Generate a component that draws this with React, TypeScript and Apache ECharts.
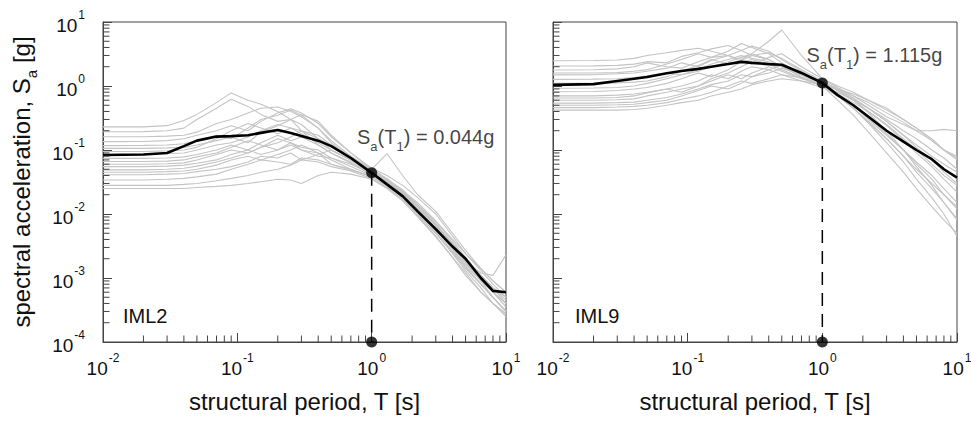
import React, { useEffect, useRef } from 'react';
import * as echarts from 'echarts';

// ---------- data ----------
const periods = [0.01, 0.02, 0.03, 0.04, 0.05, 0.07, 0.09, 0.12, 0.15, 0.2, 0.25, 0.3, 0.4, 0.5, 0.7, 1, 1.3, 1.7, 2.2, 3, 4, 5, 6.5, 8, 10];

const iml2Mean = [0.0835, 0.085, 0.09, 0.115, 0.14, 0.162, 0.165, 0.17, 0.185, 0.205, 0.185, 0.165, 0.14, 0.115, 0.075, 0.044, 0.029, 0.019, 0.011, 0.0058, 0.0031, 0.002, 0.001, 0.00063, 0.0006];

const iml2Records = [
  [0.23, 0.23, 0.24, 0.29, 0.36, 0.55, 0.78, 0.6, 0.52, 0.4, 0.3, 0.2, 0.12, 0.09, 0.062, 0.045, 0.03, 0.019, 0.011, 0.0055, 0.003, 0.0018, 0.0009, 0.0006, 0.00035],
  [0.193, 0.194, 0.2, 0.22, 0.3, 0.45, 0.62, 0.48, 0.36, 0.28, 0.3, 0.25, 0.15, 0.1, 0.07, 0.05, 0.034, 0.022, 0.013, 0.0065, 0.0032, 0.0019, 0.0011, 0.0007, 0.00045],
  [0.161, 0.161, 0.165, 0.17, 0.19, 0.26, 0.3, 0.38, 0.45, 0.47, 0.4, 0.33, 0.22, 0.14, 0.08, 0.048, 0.035, 0.024, 0.014, 0.007, 0.0035, 0.002, 0.0011, 0.0007, 0.0005],
  [0.135, 0.136, 0.14, 0.15, 0.17, 0.2, 0.24, 0.2, 0.28, 0.38, 0.44, 0.38, 0.26, 0.16, 0.09, 0.05, 0.036, 0.023, 0.013, 0.0065, 0.0031, 0.0017, 0.001, 0.0006, 0.0004],
  [0.117, 0.118, 0.12, 0.125, 0.14, 0.17, 0.15, 0.22, 0.3, 0.35, 0.42, 0.35, 0.22, 0.13, 0.075, 0.045, 0.032, 0.021, 0.012, 0.006, 0.003, 0.0018, 0.0009, 0.0005, 0.0003],
  [0.106, 0.106, 0.108, 0.11, 0.12, 0.14, 0.16, 0.13, 0.19, 0.24, 0.3, 0.36, 0.28, 0.17, 0.09, 0.052, 0.04, 0.028, 0.018, 0.01, 0.0045, 0.0024, 0.0013, 0.0008, 0.0005],
  [0.095, 0.095, 0.097, 0.1, 0.11, 0.15, 0.2, 0.26, 0.22, 0.18, 0.22, 0.2, 0.15, 0.12, 0.08, 0.05, 0.088, 0.04, 0.02, 0.011, 0.005, 0.0027, 0.0014, 0.0009, 0.0006],
  [0.085, 0.086, 0.088, 0.09, 0.1, 0.12, 0.13, 0.16, 0.2, 0.25, 0.22, 0.18, 0.13, 0.1, 0.07, 0.042, 0.028, 0.018, 0.01, 0.005, 0.0024, 0.0013, 0.0007, 0.0004, 0.00028],
  [0.074, 0.074, 0.075, 0.078, 0.085, 0.1, 0.12, 0.1, 0.13, 0.17, 0.14, 0.16, 0.12, 0.09, 0.065, 0.04, 0.03, 0.022, 0.014, 0.0075, 0.0038, 0.0021, 0.0011, 0.0007, 0.0005],
  [0.066, 0.066, 0.067, 0.07, 0.078, 0.09, 0.11, 0.14, 0.12, 0.1, 0.13, 0.11, 0.1, 0.075, 0.06, 0.043, 0.03, 0.019, 0.011, 0.0052, 0.0026, 0.0015, 0.0008, 0.0005, 0.0003],
  [0.06, 0.06, 0.061, 0.063, 0.07, 0.085, 0.1, 0.09, 0.11, 0.13, 0.16, 0.2, 0.17, 0.12, 0.07, 0.044, 0.032, 0.02, 0.012, 0.006, 0.0029, 0.0016, 0.0009, 0.0006, 0.0004],
  [0.055, 0.055, 0.056, 0.058, 0.062, 0.07, 0.085, 0.1, 0.085, 0.1, 0.12, 0.1, 0.08, 0.075, 0.055, 0.04, 0.029, 0.021, 0.013, 0.0068, 0.0034, 0.0018, 0.0012, 0.0011, 0.0023],
  [0.049, 0.049, 0.05, 0.052, 0.056, 0.065, 0.075, 0.09, 0.11, 0.15, 0.13, 0.1, 0.09, 0.07, 0.05, 0.038, 0.028, 0.02, 0.012, 0.0058, 0.0028, 0.0015, 0.0008, 0.0005, 0.0003],
  [0.045, 0.045, 0.046, 0.047, 0.05, 0.058, 0.07, 0.08, 0.07, 0.085, 0.1, 0.12, 0.09, 0.06, 0.048, 0.04, 0.031, 0.023, 0.015, 0.0078, 0.004, 0.0024, 0.0014, 0.0009, 0.0006],
  [0.041, 0.041, 0.042, 0.043, 0.046, 0.05, 0.055, 0.065, 0.08, 0.075, 0.09, 0.07, 0.065, 0.055, 0.047, 0.036, 0.026, 0.017, 0.0095, 0.0045, 0.0021, 0.0012, 0.0006, 0.0004, 0.00025],
  [0.034, 0.034, 0.035, 0.036, 0.038, 0.042, 0.05, 0.06, 0.07, 0.065, 0.06, 0.075, 0.07, 0.06, 0.05, 0.038, 0.027, 0.018, 0.01, 0.005, 0.0025, 0.0014, 0.0008, 0.0005, 0.0003],
  [0.028, 0.028, 0.028, 0.029, 0.03, 0.033, 0.036, 0.04, 0.045, 0.05, 0.058, 0.07, 0.085, 0.1, 0.07, 0.046, 0.033, 0.022, 0.013, 0.0068, 0.0034, 0.0019, 0.001, 0.0007, 0.0004],
  [0.025, 0.025, 0.025, 0.025, 0.026, 0.027, 0.028, 0.03, 0.032, 0.035, 0.034, 0.03, 0.04, 0.045, 0.042, 0.035, 0.025, 0.016, 0.009, 0.0044, 0.0021, 0.0011, 0.0006, 0.0004, 0.00027],
];

const iml9Mean = [1.04, 1.07, 1.2, 1.3, 1.38, 1.58, 1.72, 1.85, 2.0, 2.2, 2.38, 2.3, 2.2, 2.15, 1.6, 1.115, 0.72, 0.5, 0.33, 0.2, 0.135, 0.1, 0.072, 0.05, 0.037];

const iml9Records = [
  [2.48, 2.5, 2.55, 2.7, 3.0, 3.3, 3.6, 3.9, 3.5, 3.0, 3.6, 4.2, 3.5, 2.6, 1.7, 1.1, 0.75, 0.5, 0.3, 0.17, 0.1, 0.065, 0.04, 0.025, 0.015],
  [2.05, 2.06, 2.1, 2.2, 2.4, 2.3, 2.9, 3.3, 3.8, 4.3, 3.6, 3.0, 3.3, 2.7, 1.8, 1.2, 0.9, 0.65, 0.45, 0.28, 0.17, 0.12, 0.08, 0.06, 0.045],
  [1.78, 1.79, 1.85, 2.0, 2.3, 2.0, 1.9, 2.4, 2.8, 3.5, 4.6, 4.0, 3.2, 2.3, 1.5, 1.0, 0.7, 0.45, 0.27, 0.15, 0.08, 0.05, 0.03, 0.02, 0.012],
  [1.49, 1.5, 1.55, 1.6, 1.7, 1.9, 2.3, 2.0, 2.5, 3.0, 2.6, 3.2, 5.0, 7.5, 3.0, 1.3, 0.95, 0.7, 0.5, 0.33, 0.25, 0.2, 0.2, 0.21, 0.2],
  [1.27, 1.28, 1.3, 1.35, 1.45, 1.6, 1.5, 1.8, 2.2, 2.6, 3.0, 2.7, 2.4, 2.0, 1.5, 1.15, 0.9, 0.75, 0.6, 0.45, 0.3, 0.22, 0.15, 0.1, 0.08],
  [0.92, 0.93, 0.95, 1.0, 1.1, 1.3, 1.5, 1.7, 2.0, 2.4, 2.8, 3.2, 2.6, 2.0, 1.4, 1.0, 0.7, 0.5, 0.32, 0.18, 0.1, 0.06, 0.035, 0.02, 0.013],
  [0.815, 0.82, 0.85, 0.9, 0.95, 1.1, 1.3, 1.6, 1.4, 1.8, 2.4, 2.2, 2.8, 3.2, 2.0, 1.3, 1.0, 0.8, 0.6, 0.42, 0.3, 0.22, 0.14, 0.1, 0.07],
  [0.7, 0.7, 0.72, 0.75, 0.8, 0.9, 1.0, 1.2, 1.5, 1.3, 1.7, 2.0, 1.8, 1.5, 1.2, 0.95, 0.8, 0.6, 0.45, 0.28, 0.17, 0.11, 0.07, 0.045, 0.03],
  [0.6, 0.6, 0.61, 0.63, 0.7, 0.8, 0.9, 1.0, 1.2, 1.5, 1.3, 1.6, 2.0, 1.7, 1.3, 1.05, 0.7, 0.45, 0.28, 0.15, 0.08, 0.045, 0.025, 0.015, 0.008],
  [0.54, 0.54, 0.55, 0.56, 0.6, 0.66, 0.75, 0.9, 1.05, 1.2, 1.5, 1.4, 1.8, 2.1, 1.6, 1.1, 0.85, 0.6, 0.38, 0.2, 0.1, 0.055, 0.028, 0.015, 0.0085],
  [0.46, 0.46, 0.47, 0.48, 0.5, 0.55, 0.62, 0.7, 0.8, 1.0, 1.2, 1.1, 1.3, 1.5, 1.35, 1.0, 0.75, 0.55, 0.4, 0.25, 0.15, 0.1, 0.06, 0.04, 0.028],
  [0.42, 0.42, 0.42, 0.43, 0.45, 0.5, 0.55, 0.6, 0.7, 0.8, 0.9, 1.05, 1.2, 1.3, 1.2, 1.05, 0.72, 0.45, 0.26, 0.13, 0.065, 0.035, 0.018, 0.01, 0.0045],
  [1.1, 1.1, 1.12, 1.15, 1.2, 1.4, 1.7, 2.1, 2.6, 2.2, 2.5, 3.0, 2.6, 2.0, 1.5, 1.2, 0.85, 0.6, 0.4, 0.24, 0.14, 0.09, 0.055, 0.035, 0.022],
  [0.65, 0.65, 0.66, 0.7, 0.78, 0.9, 0.8, 1.0, 1.3, 1.6, 2.0, 2.4, 2.2, 1.8, 1.35, 1.0, 0.6, 0.35, 0.19, 0.09, 0.045, 0.025, 0.013, 0.008, 0.005],
  [1.6, 1.6, 1.62, 1.7, 1.8, 2.2, 2.6, 3.2, 2.8, 3.0, 2.4, 2.6, 2.2, 2.0, 1.6, 1.15, 0.9, 0.7, 0.55, 0.38, 0.27, 0.2, 0.14, 0.1, 0.075],
  [0.5, 0.5, 0.51, 0.52, 0.55, 0.6, 0.7, 0.85, 1.0, 0.9, 1.1, 1.4, 1.6, 1.9, 1.5, 1.15, 0.85, 0.62, 0.45, 0.3, 0.2, 0.15, 0.1, 0.075, 0.05],
];

const panelLabels = ['IML2', 'IML9'];
const structuralPeriod = 1; // T1 [s]
const saAtT1 = [0.044, 1.115]; // g
const xRange = [0.01, 10];
const yRange = [0.0001, 10];
const xDecades = [-2, -1, 0];
const yDecades = [-4, -3, -2, -1, 0];

// ---------- styling ----------
const FONT = 'Liberation Sans, Arial, Helvetica, sans-serif';
const AXIS_COLOR = '#444';
const TEXT_COLOR = '#111';
const GRAY = '#c4c4c4';

const powRich = {
  b: { fontSize: 19, lineHeight: 26, color: TEXT_COLOR, fontFamily: FONT, verticalAlign: 'bottom' },
  s: { fontSize: 12, lineHeight: 12, color: TEXT_COLOR, fontFamily: FONT, verticalAlign: 'top', padding: [0, 0, 0, 1] },
};
const powFormatter = (v: number) => `{b|10}{s|${Math.round(Math.log10(v))}}`;

const minorTickValues = (decades: number[]) => {
  const out: number[] = [];
  decades.forEach((d) => {
    for (let m = 2; m <= 9; m++) out.push(m * Math.pow(10, d));
  });
  return out;
};

function buildOption() {
  const grids = [
    { left: 103, top: 22, width: 403, height: 320 },
    { left: 553, top: 22, width: 404, height: 320 },
  ].map((g) => ({ ...g, show: true, borderColor: AXIS_COLOR, borderWidth: 1, backgroundColor: 'transparent', containLabel: false, outerBoundsMode: 'none' }));

  const xAxes = [0, 1].map((i) => ({
    type: 'log',
    logBase: 10,
    gridIndex: i,
    min: xRange[0],
    max: xRange[1],
    axisLine: { show: true, lineStyle: { color: AXIS_COLOR, width: 1 } },
    axisTick: { show: true, inside: true, length: 9, lineStyle: { color: AXIS_COLOR, width: 1 } },
    axisLabel: { margin: 10, fontSize: 19, fontFamily: FONT, formatter: powFormatter, rich: powRich, color: TEXT_COLOR },
    splitLine: { show: false },
    minorTick: { show: false },
    name: 'structural period, T [s]',
    nameLocation: 'middle',
    nameGap: 47,
    nameTextStyle: { fontSize: 24, color: TEXT_COLOR, fontFamily: FONT },
  }));

  const yAxes = [0, 1].map((i) => ({
    type: 'log',
    logBase: 10,
    gridIndex: i,
    min: yRange[0],
    max: yRange[1],
    axisLine: { show: true, lineStyle: { color: AXIS_COLOR, width: 1 } },
    axisTick: { show: true, inside: true, length: 9, lineStyle: { color: AXIS_COLOR, width: 1 } },
    axisLabel: { show: i === 0, margin: 18, fontSize: 19, fontFamily: FONT, formatter: powFormatter, rich: powRich, color: TEXT_COLOR },
    splitLine: { show: false },
    minorTick: { show: false },
    name: i === 0 ? '{m|spectral acceleration, S}{sub|a}{m| [g]}' : '',
    nameLocation: 'middle',
    nameGap: 64,
    nameRotate: 90,
    nameTextStyle: {
      fontSize: 24,
      color: TEXT_COLOR,
      fontFamily: FONT,
      rich: {
        m: { fontSize: 24, lineHeight: 30, color: TEXT_COLOR, fontFamily: FONT, verticalAlign: 'top' },
        sub: { fontSize: 15, lineHeight: 15, color: TEXT_COLOR, fontFamily: FONT, verticalAlign: 'bottom' },
      },
    },
  }));

  const xMinor = minorTickValues(xDecades);
  const yMinor = minorTickValues(yDecades);

  const series: any[] = [];
  const panels = [
    { records: iml2Records, mean: iml2Mean },
    { records: iml9Records, mean: iml9Mean },
  ];

  panels.forEach((p, i) => {
    // minor ticks on the log axes
    series.push({
      type: 'custom',
      xAxisIndex: i,
      yAxisIndex: i,
      silent: true,
      clip: false,
      z: 5,
      encode: { x: 0, y: 1 },
      data: [
        ...xMinor.map((v) => [v, yRange[0], 0]),
        ...yMinor.map((v) => [xRange[0], v, 1]),
      ],
      renderItem: (params: any, api: any) => {
        const pt = api.coord([api.value(0), api.value(1)]);
        const horiz = api.value(2) === 1;
        const len = 6.5;
        return {
          type: 'line',
          shape: horiz
            ? { x1: pt[0], y1: pt[1], x2: pt[0] + len, y2: pt[1] }
            : { x1: pt[0], y1: pt[1], x2: pt[0], y2: pt[1] - len },
          style: { stroke: AXIS_COLOR, lineWidth: 1 },
        };
      },
    });

    p.records.forEach((rec) => {
      series.push({
        type: 'line',
        xAxisIndex: i,
        yAxisIndex: i,
        data: periods.map((t, k) => [t, rec[k]]),
        showSymbol: false,
        symbol: 'none',
        silent: true,
        lineStyle: { color: GRAY, width: 1.1 },
        z: 2,
      });
    });

    series.push({
      type: 'line',
      xAxisIndex: i,
      yAxisIndex: i,
      data: periods.map((t, k) => [t, p.mean[k]]),
      symbol: 'none',
      silent: true,
      lineStyle: { color: '#000', width: 2.6 },
      z: 3,
    });

    // dashed drop line
    series.push({
      type: 'line',
      xAxisIndex: i,
      yAxisIndex: i,
      data: [
        [structuralPeriod, saAtT1[i]],
        [structuralPeriod, yRange[0]],
      ],
      symbol: 'none',
      silent: true,
      lineStyle: { color: '#000', width: 1.5, type: [13, 8] },
      z: 4,
    });

    // dots + annotation
    series.push({
      type: 'scatter',
      xAxisIndex: i,
      yAxisIndex: i,
      clip: false,
      silent: true,
      symbol: 'circle',
      symbolSize: 11,
      itemStyle: { color: '#000' },
      z: 6,
      data: [
        {
          value: [structuralPeriod, saAtT1[i]],
          label: {
            show: true,
            position: 'inside',
            offset: i === 0 ? [54, -33] : [52, -25],
            color: TEXT_COLOR,
            textBorderWidth: 0,
            formatter: `{m|S}{sub|a}{m|(T}{sub|1}{m|) = ${saAtT1[i].toFixed(3)}g}`,
            rich: {
              m: { fontSize: 20, lineHeight: 26, color: TEXT_COLOR, fontFamily: FONT, textBorderWidth: 0, verticalAlign: 'top' },
              sub: { fontSize: 13, lineHeight: 13, color: TEXT_COLOR, fontFamily: FONT, textBorderWidth: 0, verticalAlign: 'bottom' },
            },
          },
        },
        { value: [structuralPeriod, yRange[0]] },
      ],
    });
  });

  return {
    animation: false,
    backgroundColor: '#fff',
    textStyle: { fontFamily: FONT },
    grid: grids,
    xAxis: xAxes,
    yAxis: yAxes,
    series,
    graphic: [
      { type: 'text', left: 123, top: 306, style: { text: panelLabels[0], fontSize: 20, fill: TEXT_COLOR, fontFamily: FONT } },
      { type: 'text', left: 575, top: 306, style: { text: panelLabels[1], fontSize: 20, fill: TEXT_COLOR, fontFamily: FONT } },
    ],
  };
}

export default function App() {
  const ref = useRef<HTMLDivElement>(null);
  useEffect(() => {
    if (!ref.current) return;
    const chart = echarts.init(ref.current, undefined, { renderer: 'svg' });
    chart.setOption(buildOption() as any);
    return () => chart.dispose();
  }, []);
  return (
    <div
      ref={ref}
      style={{ position: 'fixed', left: 0, top: 0, width: 971, height: 423, background: '#fff' }}
    />
  );
}
